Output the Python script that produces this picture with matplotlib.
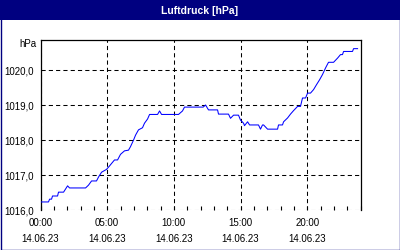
import matplotlib
matplotlib.use("Agg")
import matplotlib.pyplot as plt
from matplotlib.patches import Rectangle
import numpy as np

NAVY = "#000080"

# pressure trace, hours since 00:00 14.06.23 -> hPa
hours = [0.0, 0.6, 0.68, 0.83, 0.9, 1.28, 1.35, 1.73, 2.03, 2.18, 3.38, 3.6,
         3.83, 4.2, 4.35, 4.58, 4.95, 5.18, 5.33, 5.55, 5.78, 6.0, 6.3, 6.6,
         6.75, 6.98, 7.13, 7.35, 7.65, 7.8, 8.03, 8.18, 8.78, 8.93, 9.08,
         10.35, 10.65, 10.8, 11.9, 12.0, 12.2, 12.38, 12.6, 13.28, 13.35,
         14.1, 14.25, 14.48, 14.85, 15.0, 15.23, 15.3, 15.53, 15.68, 16.35,
         16.5, 16.65, 16.73, 17.03, 17.78, 17.85, 18.15, 18.23, 18.53, 18.75,
         18.98, 19.28, 19.5, 19.65, 19.88, 20.03, 20.25, 20.48, 20.7, 20.93,
         21.15, 21.38, 21.6, 21.98, 22.28, 22.5, 22.65, 22.73, 23.4, 23.48,
         23.78]
pressure = [1016.23, 1016.23, 1016.31, 1016.31, 1016.40, 1016.40, 1016.51,
            1016.51, 1016.69, 1016.63, 1016.63, 1016.71, 1016.83, 1016.83,
            1016.94, 1017.08, 1017.16, 1017.26, 1017.33, 1017.43, 1017.43,
            1017.59, 1017.69, 1017.71, 1017.81, 1018.0, 1018.14, 1018.29,
            1018.35, 1018.48, 1018.6, 1018.73, 1018.73, 1018.83, 1018.73,
            1018.73, 1018.83, 1018.94, 1018.94, 1018.94, 1018.94, 1019.0,
            1018.86, 1018.86, 1018.74, 1018.74, 1018.62, 1018.71, 1018.71,
            1018.57, 1018.48, 1018.41, 1018.52, 1018.43, 1018.43, 1018.31,
            1018.43, 1018.43, 1018.31, 1018.31, 1018.43, 1018.43, 1018.52,
            1018.63, 1018.74, 1018.84, 1018.96, 1018.96, 1019.2, 1019.2,
            1019.34, 1019.34, 1019.44, 1019.58, 1019.72, 1019.87, 1020.06,
            1020.22, 1020.22, 1020.34, 1020.44, 1020.44, 1020.53, 1020.53,
            1020.61, 1020.61]

x_ticks = [0, 5, 10, 15, 20]
x_labels = ["00:00\n14.06.23", "05:00\n14.06.23", "10:00\n14.06.23",
            "15:00\n14.06.23", "20:00\n14.06.23"]
y_ticks = [1016, 1017, 1018, 1019, 1020]
y_labels = ["1016,0", "1017,0", "1018,0", "1019,0", "1020,0"]

plt.rcParams["font.family"] = ["Liberation Sans", "DejaVu Sans"]

fig = plt.figure(figsize=(4, 2.5), dpi=100)
fig.patch.set_facecolor("white")

# title bar + frame
fig.patches.append(Rectangle((0, 230 / 250), 1, 20 / 250, transform=fig.transFigure,
                             facecolor=NAVY, edgecolor="none", zorder=0))
fig.patches.append(Rectangle((0.5 / 400, 0.5 / 250), 399 / 400, 249 / 250,
                             transform=fig.transFigure, facecolor="none",
                             edgecolor=NAVY, linewidth=1.0, zorder=5))
fig.text(0.5, 1 - 10.5 / 250, "Luftdruck [hPa]", color="white", fontsize=7.5,
         fontweight="bold", ha="center", va="center")

ax = fig.add_axes([40.5 / 400, 1 - 210 / 250, 320 / 400, 170 / 250])
ax.plot(hours, pressure, color="#0000ff", linewidth=0.75, zorder=3)

ax.set_xlim(0, 24)
ax.set_ylim(1016, 1016 + 170 / 35)
ax.set_xticks(x_ticks)
ax.set_xticklabels(x_labels, fontsize=7, linespacing=1.75)
ax.set_xticks(np.arange(0, 25, 1), minor=True)
ax.set_yticks(y_ticks)
ax.set_yticklabels(y_labels, fontsize=7)
ax.tick_params(axis="x", which="both", direction="in", length=3, width=0.8,
               pad=6)
ax.tick_params(axis="y", length=0, pad=5)

ax.grid(True, which="major", color="black", linestyle=(0, (4, 3)),
        linewidth=0.75)
for s in ax.spines.values():
    s.set_linewidth(0.9)
ax.spines["bottom"].set_visible(False)

fig.text(36 / 400, 1 - 44 / 250, "hPa", fontsize=7, ha="right", va="center")

fig.savefig("out.png", dpi=100)
